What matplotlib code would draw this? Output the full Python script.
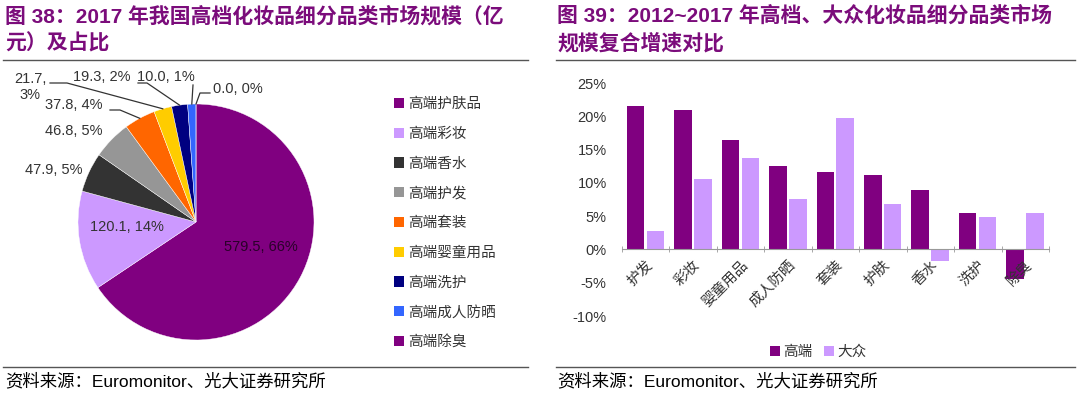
import numpy as np
import matplotlib
matplotlib.use('Agg')
import matplotlib.pyplot as plt
from matplotlib.patches import Patch
from matplotlib.lines import Line2D

plt.rcParams['font.family'] = ['Liberation Sans', 'Noto Sans CJK SC', 'DejaVu Sans']

# ---- data: figure 38 (pie) ----
pie_labels = ['高端护肤品', '高端彩妆', '高端香水', '高端护发', '高端套装',
              '高端婴童用品', '高端洗护', '高端成人防晒', '高端除臭']
pie_values = [579.5, 120.1, 47.9, 46.8, 37.8, 21.7, 19.3, 10.0, 0.0]
pie_pcts = [66, 14, 5, 5, 4, 3, 2, 1, 0]
pie_colors = ['#800080', '#CC99FF', '#333333', '#969696', '#FF6600',
              '#FFCC00', '#000080', '#3366FF', '#800080']

# ---- data: figure 39 (bars) ----
categories = ['护发', '彩妆', '婴童用品', '成人防晒', '套装', '护肤', '香水', '洗护', '除臭']
high_end = [21.6, 21.0, 16.5, 12.5, 11.6, 11.2, 9.0, 5.5, -4.4]
mass = [2.7, 10.6, 13.7, 7.6, 19.8, 6.8, -1.7, 4.9, 5.5]

W, H = 1080, 404
TITLE_COLOR = '#7B0C7B'
TEXT_COLOR = '#333333'

fig = plt.figure(figsize=(W / 100, H / 100), dpi=100)


def frect(x0, y0, x1, y1):
    # pixel box (top-left origin) -> figure fraction rect
    return [x0 / W, 1 - y1 / H, (x1 - x0) / W, (y1 - y0) / H]


def fpt(x, y):
    return x / W, 1 - y / H


# ---- titles, rules, sources ----
titles = [(5, ['图 38：2017 年我国高档化妆品细分品类市场规模（亿', '元）及占比']),
          (557, ['图 39：2012~2017 年高档、大众化妆品细分品类市场', '规模复合增速对比'])]
for x, lines in titles:
    for i, line in enumerate(lines):
        fig.text(*fpt(x, 16 + 27 * i), line, color=TITLE_COLOR, fontsize=15,
                 fontweight='bold', va='center', ha='left')
    fig.text(*fpt(x, 381), '资料来源：Euromonitor、光大证券研究所', fontsize=12.5,
             color='black', va='center', ha='left')

for x0, x1 in [(3, 528), (556, 1075)]:
    for y in (60, 367):
        fig.add_artist(Line2D([x0 / W, x1 / W], [1 - y / H, 1 - y / H],
                              color='#555555', lw=1))

# ---- pie ----
cx, cy, r = 196, 222, 118
ax_pie = fig.add_axes(frect(0, 62, 380, 362))
ax_pie.axis('off')


def d(px, py):
    return (px - cx) / r, (cy - py) / r


wedges, _ = ax_pie.pie(pie_values, colors=pie_colors, startangle=90,
                       counterclock=False, radius=1.0,
                       wedgeprops=dict(linewidth=0.3, edgecolor='white'))
ax_pie.set_xlim((0 - cx) / r, (380 - cx) / r)
ax_pie.set_ylim((cy - 362) / r, (cy - 62) / r)
ax_pie.set_aspect('auto')

# label positions (pixel centres) and leader-line start points
label_pos = [(261, 247), (127, 227), (54, 170), (74, 131), (74, 105),
             (30, 87), (102, 77), (166, 77), (238, 89)]
leaders = {4: [(110, 110), (120, 110)],
           5: [(50, 83), (67, 83)],
           6: [(138, 83), (147, 83)],
           7: [(193, 85)],
           8: [(210, 93), (200, 93)]}

for i, (v, p) in enumerate(zip(pie_values, pie_pcts)):
    txt = f'{v:.1f}, {p}%'
    if i == 5:
        txt = f'{v:.1f},\n{p}%'
    ax_pie.text(*d(*label_pos[i]), txt, ha='center', va='center',
                fontsize=10.5, color='#2a002a' if i == 0 else TEXT_COLOR,
                linespacing=1.15)
    if i in leaders:
        w = wedges[i]
        mid = np.deg2rad((w.theta1 + w.theta2) / 2)
        pts = [d(*q) for q in leaders[i]] + [(np.cos(mid), np.sin(mid))]
        xs, ys = zip(*pts)
        ax_pie.plot(xs, ys, color='#333333', lw=0.9)

handles = [Patch(facecolor=c, edgecolor='none') for c in pie_colors]
fig.legend(handles, pie_labels, loc='upper left', bbox_to_anchor=fpt(394, 97),
           frameon=False, fontsize=10.5, handlelength=0.7, handleheight=0.7,
           handletextpad=0.3, labelspacing=1.08, borderpad=0, borderaxespad=0,
           labelcolor=TEXT_COLOR)

# ---- bars ----
ax = fig.add_axes(frect(622, 83, 1049, 316))
x = np.arange(len(categories))
bw = 0.37
ax.bar(x - 0.215, high_end, width=bw, color='#800080', label='高端')
ax.bar(x + 0.205, mass, width=bw, color='#CC99FF', label='大众')
ax.set_xlim(-0.5, len(categories) - 0.5)
ax.set_ylim(-10, 25)
ax.set_yticks(np.arange(-10, 26, 5))
ax.set_yticklabels([f'{t}%' for t in range(-10, 26, 5)])
ax.tick_params(axis='y', length=0, labelsize=10.5, labelcolor=TEXT_COLOR, pad=11)
for s in ('left', 'right', 'top'):
    ax.spines[s].set_visible(False)
ax.spines['bottom'].set_position(('data', 0))
ax.spines['bottom'].set_color('#999999')
ax.set_xticks(x)
ax.set_xticklabels(categories, rotation=45, ha='right', va='top',
                   rotation_mode='anchor', fontsize=10.5, color=TEXT_COLOR)
ax.tick_params(axis='x', which='major', length=0, pad=6)
ax.set_xticks(np.arange(-0.5, len(categories)), minor=True)
ax.tick_params(axis='x', which='minor', length=5, direction='inout', color='#999999')

fig.legend(loc='center', bbox_to_anchor=fpt(818, 352), ncol=2, frameon=False,
           fontsize=10.5, handlelength=0.7, handleheight=0.7, handletextpad=0.2,
           columnspacing=0.8, labelcolor=TEXT_COLOR)

fig.savefig('out.png', dpi=100)
